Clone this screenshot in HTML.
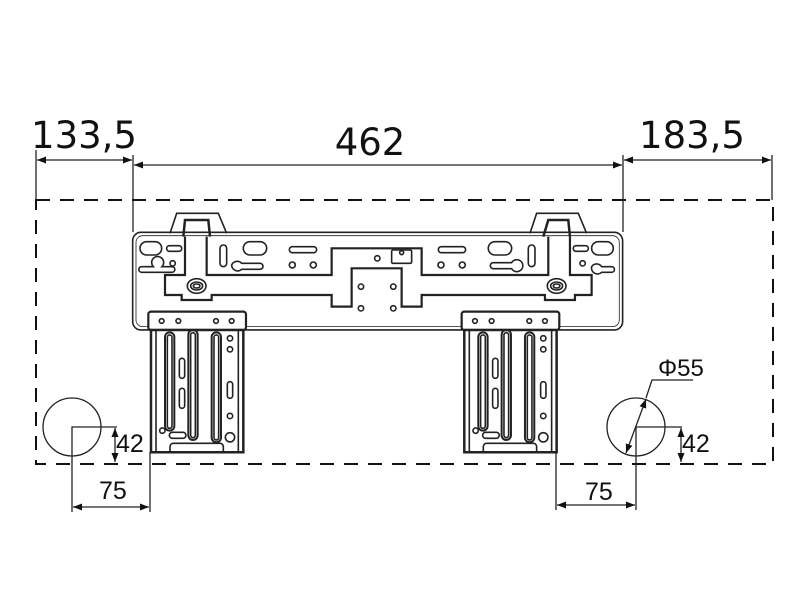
<!DOCTYPE html>
<html><head><meta charset="utf-8"><style>
html,body{margin:0;padding:0;background:#fff;}
svg{display:block}
text{font-family:"Liberation Sans","DejaVu Sans",sans-serif;fill:#111}
.d{font-family:"DejaVu Sans","Liberation Sans",sans-serif}
.n{vector-effect:non-scaling-stroke}
</style></head><body>
<svg width="800" height="600" viewBox="0 0 800 600" xmlns="http://www.w3.org/2000/svg">
<defs>
<marker id="a" markerWidth="10" markerHeight="8" refX="9" refY="4" orient="auto-start-reverse" markerUnits="userSpaceOnUse">
<path d="M0,0.5 L9,4 L0,7.5 z" fill="#111"/></marker>
</defs>
<rect x="36" y="200" width="737" height="264" fill="none" stroke="#111" stroke-width="2" stroke-dasharray="14,10"/>
<g stroke="#222" stroke-width="1.3" fill="none">
<line x1="36" y1="150" x2="36" y2="200"/>
<line x1="133" y1="155" x2="133" y2="232"/>
<line x1="623" y1="155" x2="623" y2="232"/>
<line x1="772" y1="155" x2="772" y2="200"/>
<line x1="37" y1="160" x2="132" y2="160" marker-start="url(#a)" marker-end="url(#a)"/>
<line x1="134" y1="165" x2="622" y2="165" marker-start="url(#a)" marker-end="url(#a)"/>
<line x1="624" y1="160" x2="771" y2="160" marker-start="url(#a)" marker-end="url(#a)"/>
</g>
<text class="d" x="84" y="148" font-size="37" text-anchor="middle">133,5</text>
<text class="d" x="370" y="155" font-size="37" text-anchor="middle">462</text>
<text class="d" x="692" y="148" font-size="37" text-anchor="middle">183,5</text>

<g transform="translate(130,200) scale(0.3333)" fill="none" stroke="#222" stroke-width="1.6">
<rect class="n" x="8" y="97" width="1470" height="293" rx="25"/>
<rect class="n" x="18" y="107" width="1450" height="273" rx="20" stroke-width="0.8"/>
<path class="n" d="M120,100 L140,40 L265,40 L290,100"/>
<path class="n" d="M160,110 L165,60 L235,60 L240,110" stroke-width="2.5"/>
<path class="n" d="M1200,100 L1220,40 L1345,40 L1370,100"/>
<path class="n" d="M1240,110 L1255,60 L1315,60 L1320,110" stroke-width="2.5"/>
<path class="n" stroke-width="2.2" d="M165,110 L165,225 L105,225 L105,285 L155,285 L155,300 L245,300 L245,285 L605,285 L605,320 L665,320 L665,205 L815,205 L815,320 L875,320 L875,285 L1245,285 L1245,300 L1335,300 L1335,285 L1385,285 L1385,225 L1320,225 L1320,110"/>
<path class="n" stroke-width="2.2" d="M230,110 L230,225 L605,225 L605,145 L875,145 L875,225 L1255,225 L1255,110"/>
<rect class="n" x="785" y="150" width="60" height="40" rx="4"/>
<circle class="n" cx="815" cy="158" r="6"/>
<rect class="n" x="30" y="125" width="65" height="40" rx="20"/>
<rect class="n" x="110" y="137" width="45" height="17" rx="8"/>
<path class="n" d="M35,200 h35 a18,18 0 1 1 26,0 h30 a8,8 0 0 1 0,17 h-91 a8,8 0 0 1 0,-17z"/>
<circle class="n" cx="128" cy="190" r="8"/>
<rect class="n" x="270" y="135" width="20" height="65" rx="10"/>
<rect class="n" x="340" y="125" width="70" height="40" rx="20"/>
<path class="n" d="M305,195 a18,18 0 0 1 30,-5 h55 a9,9 0 0 1 0,18 h-55 a18,18 0 0 1 -30,-13z"/>
<rect class="n" x="478" y="140" width="82" height="18" rx="9"/>
<circle class="n" cx="487" cy="195" r="9"/><circle class="n" cx="550" cy="195" r="9"/>
<circle class="n" cx="742" cy="175" r="8"/>
<circle class="n" cx="693" cy="260" r="8"/><circle class="n" cx="790" cy="260" r="8"/>
<circle class="n" cx="693" cy="325" r="8"/><circle class="n" cx="790" cy="325" r="8"/>
<rect class="n" x="925" y="140" width="82" height="18" rx="9"/>
<circle class="n" cx="933" cy="195" r="9"/><circle class="n" cx="997" cy="195" r="9"/>
<rect class="n" x="1075" y="125" width="70" height="40" rx="20"/>
<path class="n" d="M1090,188 h55 a18,18 0 1 1 0,18 h-55 a9,9 0 0 1 0,-18z"/>
<rect class="n" x="1195" y="135" width="20" height="65" rx="10"/>
<rect class="n" x="1330" y="137" width="45" height="17" rx="8"/>
<rect class="n" x="1385" y="125" width="65" height="40" rx="20"/>
<circle class="n" cx="1358" cy="190" r="8"/>
<path class="n" d="M1385,200 a18,18 0 0 1 30,0 h30 a8,8 0 0 1 0,17 h-30 a18,18 0 0 1 -30,-17z"/>
<ellipse class="n" cx="200" cy="258" rx="28" ry="22"/><ellipse class="n" cx="200" cy="258" rx="18" ry="12"/><ellipse class="n" cx="200" cy="258" rx="10" ry="6"/>
<ellipse class="n" cx="1280" cy="258" rx="28" ry="22"/><ellipse class="n" cx="1280" cy="258" rx="18" ry="12"/><ellipse class="n" cx="1280" cy="258" rx="10" ry="6"/>
<g id="br">
<rect class="n" x="55" y="335" width="293" height="55" rx="8" fill="#fff" stroke-width="2.2"/>
<circle class="n" cx="95" cy="363" r="7"/><circle class="n" cx="145" cy="363" r="7"/>
<circle class="n" cx="258" cy="363" r="7"/><circle class="n" cx="305" cy="363" r="7"/>
<rect class="n" x="63" y="390" width="277" height="367" fill="#fff" stroke-width="2.5"/>
<line class="n" x1="78" y1="390" x2="78" y2="757"/>
<line class="n" x1="325" y1="390" x2="325" y2="757"/>
<rect class="n" x="105" y="397" width="28" height="295" rx="14" stroke-width="2"/>
<rect class="n" x="112" y="405" width="14" height="280" rx="7"/>
<rect class="n" x="175" y="390" width="28" height="330" rx="14" stroke-width="2"/>
<rect class="n" x="182" y="398" width="14" height="315" rx="7"/>
<rect class="n" x="245" y="397" width="28" height="330" rx="14" stroke-width="2"/>
<rect class="n" x="252" y="405" width="14" height="315" rx="7"/>
<rect class="n" x="148" y="475" width="16" height="60" rx="8"/>
<rect class="n" x="148" y="565" width="16" height="60" rx="8"/>
<rect class="n" x="292" y="545" width="16" height="50" rx="8"/>
<circle class="n" cx="300" cy="415" r="8"/><circle class="n" cx="300" cy="448" r="8"/>
<circle class="n" cx="300" cy="648" r="8"/><circle class="n" cx="300" cy="712" r="14"/>
<circle class="n" cx="97" cy="692" r="8"/>
<rect class="n" x="118" y="697" width="50" height="18" rx="9"/>
<path class="n" d="M120,757 L120,740 a10,10 0 0 1 10,-10 h140 a10,10 0 0 1 10,10 L280,757"/>
</g>
<use href="#br" x="940"/>
</g>

<g stroke="#222" stroke-width="1.3" fill="none">
<circle cx="72" cy="427" r="29"/>
<polyline points="117,427 72,427 72,512"/>
<line x1="150" y1="452" x2="150" y2="512"/>
<line x1="115" y1="428" x2="115" y2="462" marker-start="url(#a)" marker-end="url(#a)"/>
<line x1="73" y1="507" x2="149" y2="507" marker-start="url(#a)" marker-end="url(#a)"/>
<circle cx="636" cy="427" r="29"/>
<polyline points="682,427 636,427 636,510"/>
<line x1="556" y1="452" x2="556" y2="510"/>
<line x1="681" y1="428" x2="681" y2="462" marker-start="url(#a)" marker-end="url(#a)"/>
<line x1="557" y1="505" x2="635" y2="505" marker-start="url(#a)" marker-end="url(#a)"/>
<polyline points="693,380 652,380 646,398"/>
<line x1="646" y1="399" x2="626" y2="453" marker-start="url(#a)" marker-end="url(#a)"/>
</g>
<text x="116" y="452" font-size="25">42</text>
<text x="99" y="499" font-size="25">75</text>
<text x="682" y="452" font-size="25">42</text>
<text x="585" y="500" font-size="25">75</text>
<text x="658" y="376" font-size="24">Φ55</text>
</svg>
</body></html>
